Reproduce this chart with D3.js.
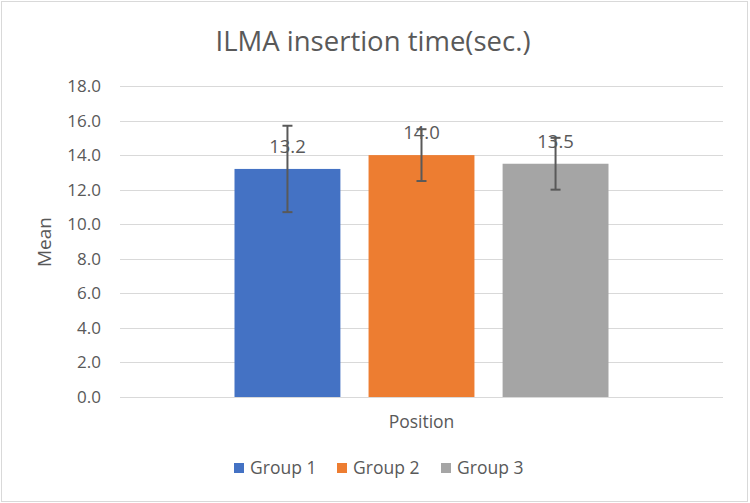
<!DOCTYPE html>
<html><head><meta charset="utf-8">
<script src="https://cdn.jsdelivr.net/npm/d3@7"></script>
<style>html,body{margin:0;padding:0;background:#fff}svg{display:block}</style>
</head><body>
<svg id="chart" width="750" height="503"></svg>
<script>
const categories = ["Position"];
const groups = ["Group 1", "Group 2", "Group 3"];
const means = [13.2, 14.0, 13.5];
const errors = [2.5, 1.5, 1.5];
const colors = ["#4472C4", "#ED7D31", "#A5A5A5"];
const yTicks = [0, 2, 4, 6, 8, 10, 12, 14, 16, 18];
const title = "ILMA insertion time(sec.)";
const yTitle = "Mean";

const W = 750, H = 503;
const font = "'Open Sans', 'Noto Sans', sans-serif";
const textColor = "#595959";
const svg = d3.select("#chart");

svg.append("rect").attr("x", 1.5).attr("y", 1.5).attr("width", W - 4).attr("height", H - 3)
  .attr("fill", "#fff").attr("stroke", "#d9d9d9").attr("stroke-width", 1);

const plot = {left: 120, right: 723, top: 86, bottom: 397};
const y = d3.scaleLinear().domain([0, 18]).range([plot.bottom, plot.top]);
const x0 = d3.scaleBand().domain(categories).range([plot.left, plot.right]).paddingInner(0).paddingOuter(0);
const x1 = d3.scaleBand().domain(groups).range([x0("Position") + 114.5, x0("Position") + x0.bandwidth() - 114.5]).paddingInner(0.21).paddingOuter(0);

// gridlines
const grid = svg.append("g")
  .attr("transform", `translate(${plot.left},0)`)
  .call(d3.axisLeft(y).tickValues(yTicks).tickSize(-(plot.right - plot.left)).tickFormat(d3.format(".1f")));
grid.select(".domain").remove();
grid.selectAll(".tick line").attr("stroke", "#d9d9d9").attr("stroke-width", 1).attr("shape-rendering", "crispEdges");
grid.selectAll(".tick text").attr("x", -19).attr("fill", textColor)
  .style("font-family", font).style("font-size", "17px");

// bars
svg.append("g").selectAll("rect").data(groups).join("rect")
  .attr("x", g => x1(g)).attr("width", x1.bandwidth())
  .attr("y", (g, i) => y(means[i])).attr("height", (g, i) => y(0) - y(means[i]))
  .attr("fill", (g, i) => colors[i]);

// x axis line
svg.append("line").attr("x1", plot.left).attr("x2", plot.right).attr("y1", y(0)).attr("y2", y(0))
  .attr("stroke", "#d9d9d9").attr("stroke-width", 1).attr("shape-rendering", "crispEdges");

// data labels
svg.append("g").selectAll("text").data(groups).join("text")
  .attr("x", g => x1(g) + x1.bandwidth() / 2)
  .attr("y", (g, i) => y(means[i]) - 16)
  .attr("text-anchor", "middle").attr("fill", textColor)
  .style("font-family", font).style("font-size", "18.5px")
  .text((g, i) => d3.format(".1f")(means[i]));

// error bars
const eb = svg.append("g").attr("stroke", "#595959").attr("stroke-width", 2);
groups.forEach((g, i) => {
  const cx = x1(g) + x1.bandwidth() / 2;
  const top = y(means[i] + errors[i]), bot = y(means[i] - errors[i]);
  eb.append("line").attr("x1", cx).attr("x2", cx).attr("y1", top).attr("y2", bot);
  eb.append("line").attr("x1", cx - 5).attr("x2", cx + 5).attr("y1", top).attr("y2", top);
  eb.append("line").attr("x1", cx - 5).attr("x2", cx + 5).attr("y1", bot).attr("y2", bot);
});

// category label
svg.append("text").attr("x", x0("Position") + x0.bandwidth() / 2).attr("y", 428)
  .attr("text-anchor", "middle").attr("fill", textColor)
  .style("font-family", font).style("font-size", "17.5px").text(categories[0]);

// title
svg.append("text").attr("x", 373).attr("y", 51).attr("text-anchor", "middle").attr("fill", textColor)
  .style("font-family", font).style("font-size", "27.5px").text(title);

// y title
svg.append("text").attr("transform", `translate(51,242) rotate(-90)`).attr("text-anchor", "middle")
  .attr("fill", textColor).style("font-family", font).style("font-size", "19px").text(yTitle);

// legend
const legendX = [234, 337, 441];
const lg = svg.append("g");
groups.forEach((g, i) => {
  lg.append("rect").attr("x", legendX[i]).attr("y", 463).attr("width", 10).attr("height", 10).attr("fill", colors[i]);
  lg.append("text").attr("x", legendX[i] + 16).attr("y", 474).attr("fill", textColor)
    .style("font-family", font).style("font-size", "17.5px").text(g);
});
</script>
</body></html>
